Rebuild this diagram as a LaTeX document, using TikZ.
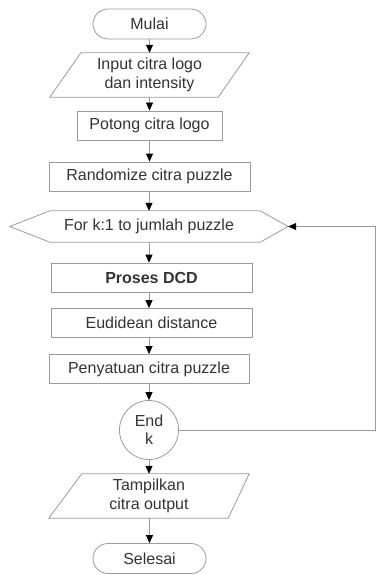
\documentclass[tikz,border=0pt]{standalone}
\usepackage{fontspec}
\setmainfont{Liberation Sans}
\usetikzlibrary{arrows.meta}
\definecolor{edge}{HTML}{9A9A9A}
\definecolor{ink}{HTML}{333333}
\begin{document}
\begin{tikzpicture}[x=1pt,y=-1pt,
  every node/.style={text=ink,font=\fontsize{16}{19}\selectfont,inner sep=0pt,align=center},
  box/.style={draw=edge,line width=0.8pt,minimum width=#1,minimum height=29pt},
  term/.style={draw=edge,line width=0.8pt,rounded corners=15pt,minimum width=113pt,minimum height=30pt},
  shapeline/.style={draw=edge,line width=0.8pt},
  flow/.style={draw=edge,line width=0.8pt,-{Triangle[length=8pt,width=7pt,color=black]}}]
\useasboundingbox (0,0) rectangle (377,575);

% nodes
\node[term] (start) at (149.5,24) {Mulai};
\node[minimum width=199pt,minimum height=44pt] (input) at (149.5,75) {Input citra logo\\dan intensity};
\node[box=145pt] (cut) at (149.5,125.5) {Potong citra logo};
\node[box=201pt] (rand) at (149.5,176.5) {Randomize citra puzzle};
\node[minimum width=278pt,minimum height=31pt] (loop) at (149,226.5) {For k:1 to jumlah puzzle};
\node[box=201pt] (dcd) at (151.5,277.5) {\textbf{Proses DCD}};
\node[box=201pt] (dist) at (151.5,323) {Eudidean distance};
\node[box=200pt] (join) at (149,369) {Penyatuan citra puzzle};
\node[draw=edge,line width=0.8pt,circle,minimum size=59pt,font=\fontsize{16}{18}\selectfont] (endk) at (149,430) {End\\k};
\node[minimum width=200pt,minimum height=44pt] (show) at (149,496) {Tampilkan\\citra output};
\node[term] (stop) at (149.5,558.5) {Selesai};

% parallelogram and hexagon outlines
\draw[shapeline] (input.south west) -- ([xshift=31pt]input.north west) -- (input.north east) -- ([xshift=-31pt]input.south east) -- cycle;
\draw[shapeline] (show.south west) -- ([xshift=33pt]show.north west) -- (show.north east) -- ([xshift=-21pt]show.south east) -- cycle;
\draw[shapeline] (loop.west) -- ([xshift=40pt]loop.north west) -- ([xshift=-28pt]loop.north east) -- (loop.east)
  -- ([xshift=-28pt]loop.south east) -- ([xshift=40pt]loop.south west) -- cycle;

% connectors
\draw[flow] (start) -- (input);
\draw[flow] (input.south -| cut.north) -- (cut);
\draw[flow] (cut) -- (rand);
\draw[flow] (rand.south -| loop.north) -- (loop);
\draw[flow] (loop.south) -- (loop.south |- dcd.north);
\draw[flow] (dcd.south -| loop.south) -- (loop.south |- dist.north);
\draw[flow] (dist.south -| loop.south) -- (loop.south |- join.north);
\draw[flow] (join) -- (endk);
\draw[flow] (endk) -- (show);
\draw[flow] (show.south -| stop.north) -- (stop);
\coordinate (back) at (375.5,430);
\draw[flow] (endk.east) -- (back) |- (loop.east);
\end{tikzpicture}
\end{document}
